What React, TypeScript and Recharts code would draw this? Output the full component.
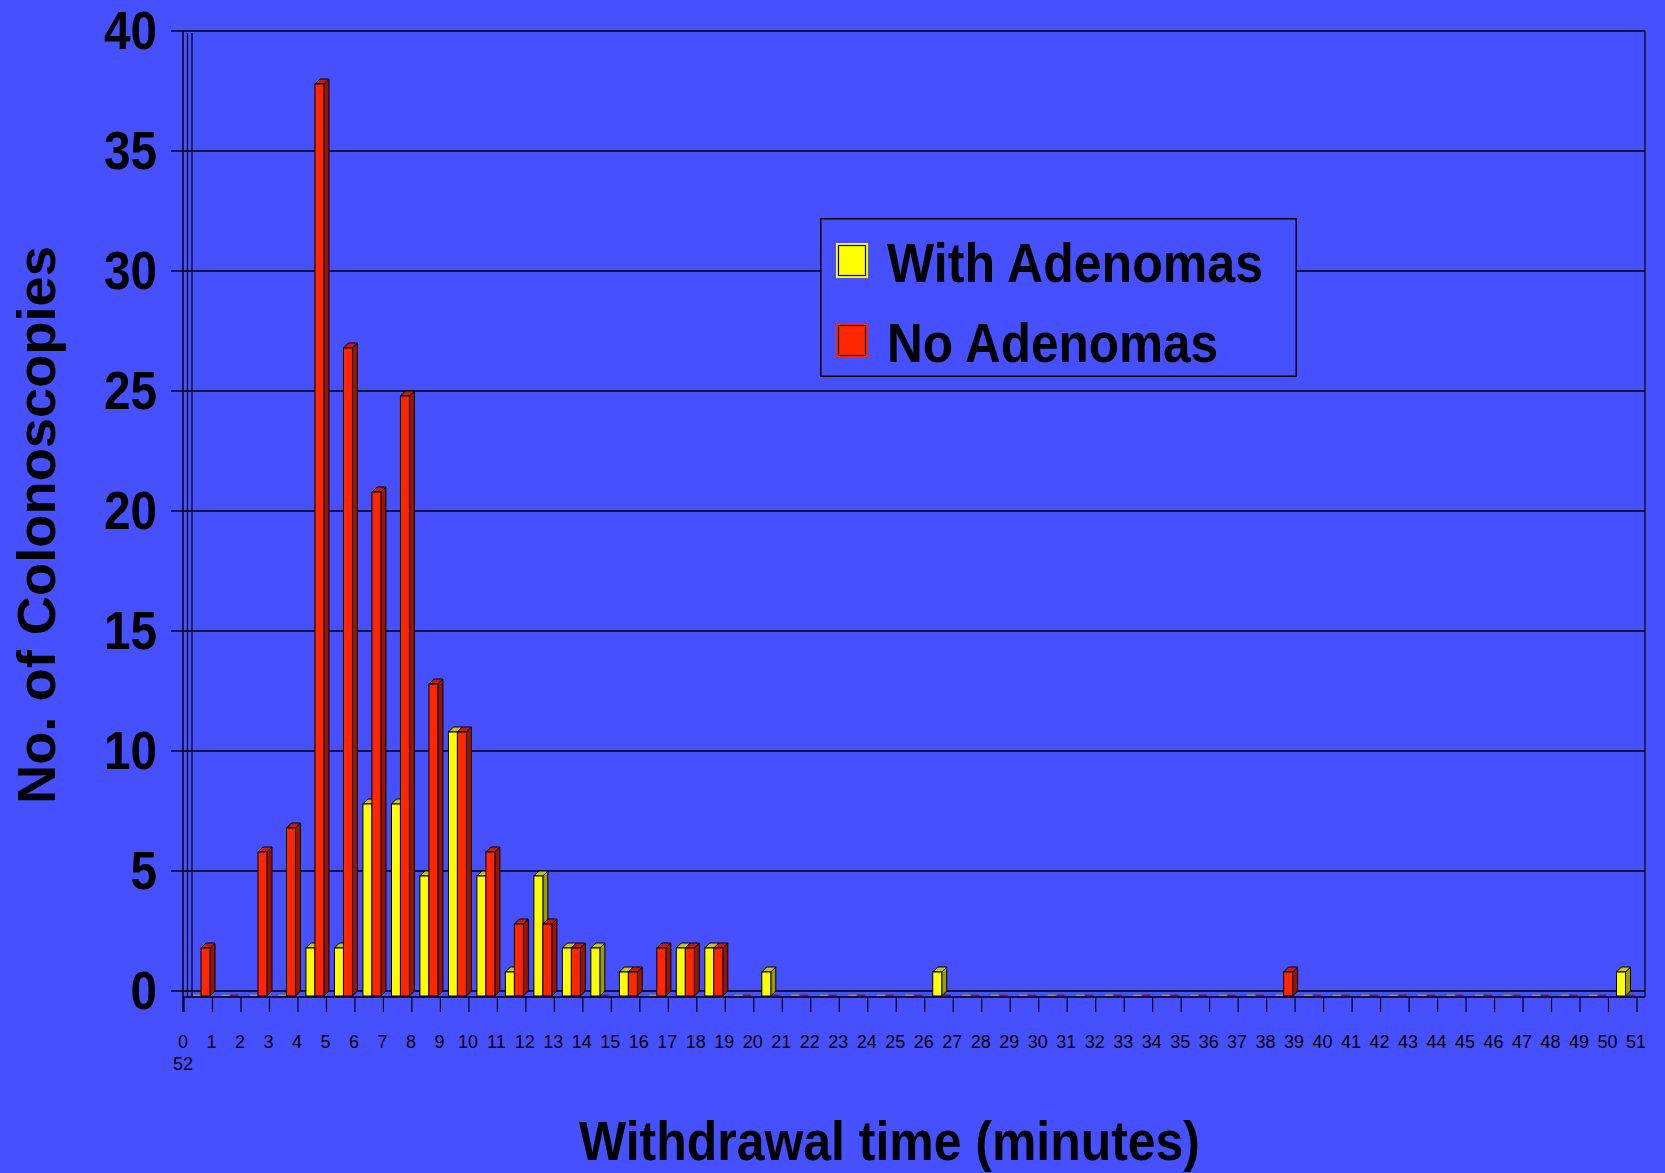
import React, { useEffect } from 'react';
import { BarChart, Bar, XAxis, YAxis, CartesianGrid, Legend, ReferenceLine } from 'recharts';

// ---------- data ----------
const minutes = [
  '1', '2', '3', '4', '5', '6', '7', '8', '9', '10',
  '11', '12', '13', '14', '15', '16', '17', '18', '19', '20',
  '21', '22', '23', '24', '25', '26', '27', '28', '29', '30',
  '31', '32', '33', '34', '35', '36', '37', '38', '39', '40',
  '41', '42', '43', '44', '45', '46', '47', '48', '49', '50',
  '51',
];
const withAdenomas = [
  0, 0, 0, 0, 2, 2, 8, 8, 5, 11,
  5, 1, 5, 2, 2, 1, 0, 2, 2, 0,
  1, 0, 0, 0, 0, 0, 1, 0, 0, 0,
  0, 0, 0, 0, 0, 0, 0, 0, 0, 0,
  0, 0, 0, 0, 0, 0, 0, 0, 0, 0,
  1,
];
const noAdenomas = [
  2, 0, 6, 7, 38, 27, 21, 25, 13, 11,
  6, 3, 3, 2, 0, 1, 2, 2, 2, 0,
  0, 0, 0, 0, 0, 0, 0, 0, 0, 0,
  0, 0, 0, 0, 0, 0, 0, 0, 1, 0,
  0, 0, 0, 0, 0, 0, 0, 0, 0, 0,
  0,
];
const seriesNames = ['With Adenomas', 'No Adenomas'];
const yTicks = [0, 5, 10, 15, 20, 25, 30, 35, 40];
const xTickValues = [
  0, 1, 2, 3, 4, 5, 6, 7, 8, 9, 10,
  11, 12, 13, 14, 15, 16, 17, 18, 19, 20,
  21, 22, 23, 24, 25, 26, 27, 28, 29, 30,
  31, 32, 33, 34, 35, 36, 37, 38, 39, 40,
  41, 42, 43, 44, 45, 46, 47, 48, 49, 50,
  51,
];
const xExtraLabel = '52';
const xTitle = 'Withdrawal time (minutes)';
const yTitle = 'No. of Colonoscopies';

const data = minutes.map((m, i) => ({
  minute: m,
  pos: Number(m),
  withA: withAdenomas[i],
  noA: noAdenomas[i],
}));

// ---------- styles ----------
const BG = '#4650FF';
const FONT = '"Liberation Sans", Arial, Helvetica, sans-serif';
const YELLOW = { front: '#FFFF00', top: '#C8C800', side: '#9C9C00' };
const RED = { front: '#FF2600', top: '#C01E00', side: '#981400' };
const DEPTH = 5;
const SHIFT = 3;
const LEGEND_W = 477;
const LEGEND_H = 159;
const LEGEND_TEXT_LEN: Record<string, number> = { 'With Adenomas': 376, 'No Adenomas': 331 };

if (typeof document !== 'undefined') {
  document.body.style.margin = '0';
  document.body.style.background = BG;
}

function Bar3D(props: any) {
  const { x, y, width, height, colors } = props;
  if (x == null || y == null || !isFinite(x) || !isFinite(y)) return null;
  const w = width;
  const h = Math.max(0, height || 0);
  const d = DEPTH;
  const fx = x + SHIFT;
  const fy = y + d;
  if (h < 0.5) {
    return <rect x={fx + 1} y={fy - 1.5} width={w - 1} height={1.5} fill={colors.side} stroke="none" />;
  }
  const top = `M${fx},${fy} L${fx + w},${fy} L${fx + w + d},${fy - d} L${fx + d},${fy - d} Z`;
  const side = `M${fx + w},${fy} L${fx + w + d},${fy - d} L${fx + w + d},${fy + h - d} L${fx + w},${fy + h} Z`;
  return (
    <g>
      <path d={side} fill={colors.side} stroke="#000" strokeWidth={1} />
      <path d={top} fill={colors.top} stroke="#000" strokeWidth={1} />
      <rect x={fx} y={fy} width={w} height={h} fill={colors.front} stroke="#000" strokeWidth={1} />
    </g>
  );
}

function XTick(props: any) {
  const { x, y, payload } = props;
  return (
    <g>
      <line x1={x} x2={x} y1={y + 6} y2={y + 21} stroke="#000" strokeWidth={1.2} />
      <text x={x - 1} y={y + 57} textAnchor="middle" fontFamily={FONT} fontSize={18} fill="#000">
        {String(payload.value)}
      </text>
      {payload.value === xTickValues[0] && (
        <text x={x - 1} y={y + 79} textAnchor="middle" fontFamily={FONT} fontSize={18} fill="#000">
          {xExtraLabel}
        </text>
      )}
    </g>
  );
}

function YTick(props: any) {
  const { x, y, payload } = props;
  const s = String(payload.value);
  return (
    <text
      x={x - 14}
      y={y + 18}
      textAnchor="end"
      fontFamily={FONT}
      fontWeight="bold"
      fontSize={53}
      fill="#000"
      textLength={s.length * 26.5}
      lengthAdjust="spacingAndGlyphs"
    >
      {s}
    </text>
  );
}

const renderXTitle = (props: any) => {
  const vb = props.viewBox || {};
  const cx = vb.x + vb.width / 2 - 21;
  const by = vb.y + 169;
  return (
    <text
      x={cx}
      y={by}
      textAnchor="middle"
      fontFamily={FONT}
      fontWeight="bold"
      fontSize={55}
      fill="#000"
      textLength={621}
      lengthAdjust="spacingAndGlyphs"
    >
      {xTitle}
    </text>
  );
};

const renderYTitle = (props: any) => {
  const vb = props.viewBox || {};
  const bx = vb.x + 55;
  const cy = vb.y + vb.height / 2 + 14;
  return (
    <text
      x={bx}
      y={cy}
      transform={`rotate(-90 ${bx} ${cy})`}
      textAnchor="middle"
      fontFamily={FONT}
      fontWeight="bold"
      fontSize={54}
      fill="#000"
      textLength={558}
      lengthAdjust="spacingAndGlyphs"
    >
      {yTitle}
    </text>
  );
};

const renderGridLine = (p: any) => (
  <line
    key={`grid-${p.index}-${p.y1}`}
    x1={p.x1}
    x2={p.x2 + 8}
    y1={p.y1}
    y2={p.y2}
    stroke="#000"
    strokeWidth={1.4}
  />
);

const renderLeftWall = (p: any) => {
  const top = Math.min(p.y1, p.y2);
  const bottom = Math.max(p.y1, p.y2);
  const x = p.x1;
  return (
    <g>
      <line x1={x - 1} x2={x - 1} y1={top - 1} y2={bottom + 21} stroke="#000" strokeWidth={1.4} />
      <line x1={x + 3.5} x2={x + 3.5} y1={top + 2} y2={bottom + 6} stroke="#000" strokeWidth={1.2} />
      <line x1={x + 8} x2={x + 8} y1={top + 2} y2={bottom + 6} stroke="#000" strokeWidth={1.2} />
    </g>
  );
};

const renderRightWall = (p: any) => {
  const top = Math.min(p.y1, p.y2);
  const bottom = Math.max(p.y1, p.y2);
  const x = p.x1;
  return <line x1={x + 8} x2={x + 8} y1={top} y2={bottom + 6} stroke="#000" strokeWidth={1.2} />;
};

const renderFloor = (p: any) => {
  const left = Math.min(p.x1, p.x2);
  const right = Math.max(p.x1, p.x2);
  const y = p.y1;
  return <line x1={left - 1} x2={right + 8} y1={y + 6} y2={y + 6} stroke="#000" strokeWidth={1.4} />;
};

const renderLegend = (props: any) => {
  const payload = props && props.payload && props.payload.length ? props.payload : null;
  const items = seriesNames.map((name, i) => {
    const entry = payload ? payload.find((e: any) => e.value === name) : null;
    const color = (entry && entry.color) || (i === 0 ? YELLOW.front : RED.front);
    return { name, color };
  });
  return (
    <svg width={LEGEND_W} height={LEGEND_H} style={{ display: 'block', overflow: 'visible' }}>
      <rect x={0.75} y={0.75} width={LEGEND_W - 1.5} height={LEGEND_H - 1.5} fill={BG} stroke="#000" strokeWidth={1.5} />
      {items.map((it, i) => (
        <g key={it.name}>
          <rect x={16} y={25 + i * 80} width={32} height={35} fill={it.color} />
          <rect x={18.5} y={27.5 + i * 80} width={27} height={30} fill={it.color} stroke="#000" strokeWidth={1.2} />
          <text
            x={67}
            y={64 + i * 80}
            fontFamily={FONT}
            fontWeight="bold"
            fontSize={55}
            fill="#000"
            textLength={LEGEND_TEXT_LEN[it.name]}
            lengthAdjust="spacingAndGlyphs"
          >
            {it.name}
          </text>
        </g>
      ))}
    </svg>
  );
};

export default function App() {
  useEffect(() => {
    document.body.style.margin = '0';
    document.body.style.background = BG;
  }, []);

  return (
    <div style={{ width: 1665, height: 1173, background: BG, overflow: 'hidden' }}>
      <BarChart
        width={1665}
        height={1173}
        data={data}
        margin={{ top: 31, right: 28, bottom: 0, left: 0 }}
        barGap={0}
        barSize={9}
      >
        <CartesianGrid xAxisId="t" vertical={false} horizontal={renderGridLine} />
        <XAxis
          xAxisId="t"
          type="number"
          dataKey="pos"
          domain={[0, 51]}
          ticks={xTickValues}
          interval={0}
          allowDataOverflow
          axisLine={false}
          tickLine={false}
          tickSize={0}
          tickMargin={0}
          height={182}
          tick={(p: any) => <XTick {...p} />}
          label={renderXTitle}
        />
        <XAxis xAxisId="c" dataKey="minute" type="category" hide height={0} />
        <YAxis
          domain={[0, 40]}
          ticks={yTicks}
          interval={0}
          width={184}
          axisLine={false}
          tickLine={{ stroke: '#000', strokeWidth: 1.4 }}
          tickSize={13}
          tickMargin={0}
          tick={(p: any) => <YTick {...p} />}
          label={renderYTitle}
        />
        <ReferenceLine xAxisId="t" x={0} shape={renderLeftWall} />
        <ReferenceLine xAxisId="t" x={51} shape={renderRightWall} />
        <ReferenceLine xAxisId="t" y={0} shape={renderFloor} />
        <Bar
          xAxisId="c"
          dataKey="withA"
          name={seriesNames[0]}
          fill={YELLOW.front}
          isAnimationActive={false}
          shape={(p: any) => <Bar3D {...p} colors={YELLOW} />}
        />
        <Bar
          xAxisId="c"
          dataKey="noA"
          name={seriesNames[1]}
          fill={RED.front}
          isAnimationActive={false}
          shape={(p: any) => <Bar3D {...p} colors={RED} />}
        />
        <Legend
          layout="horizontal"
          verticalAlign="middle"
          align="center"
          content={renderLegend}
          wrapperStyle={{ position: 'absolute', left: 820, top: 218, width: LEGEND_W, height: LEGEND_H }}
        />
      </BarChart>
    </div>
  );
}
